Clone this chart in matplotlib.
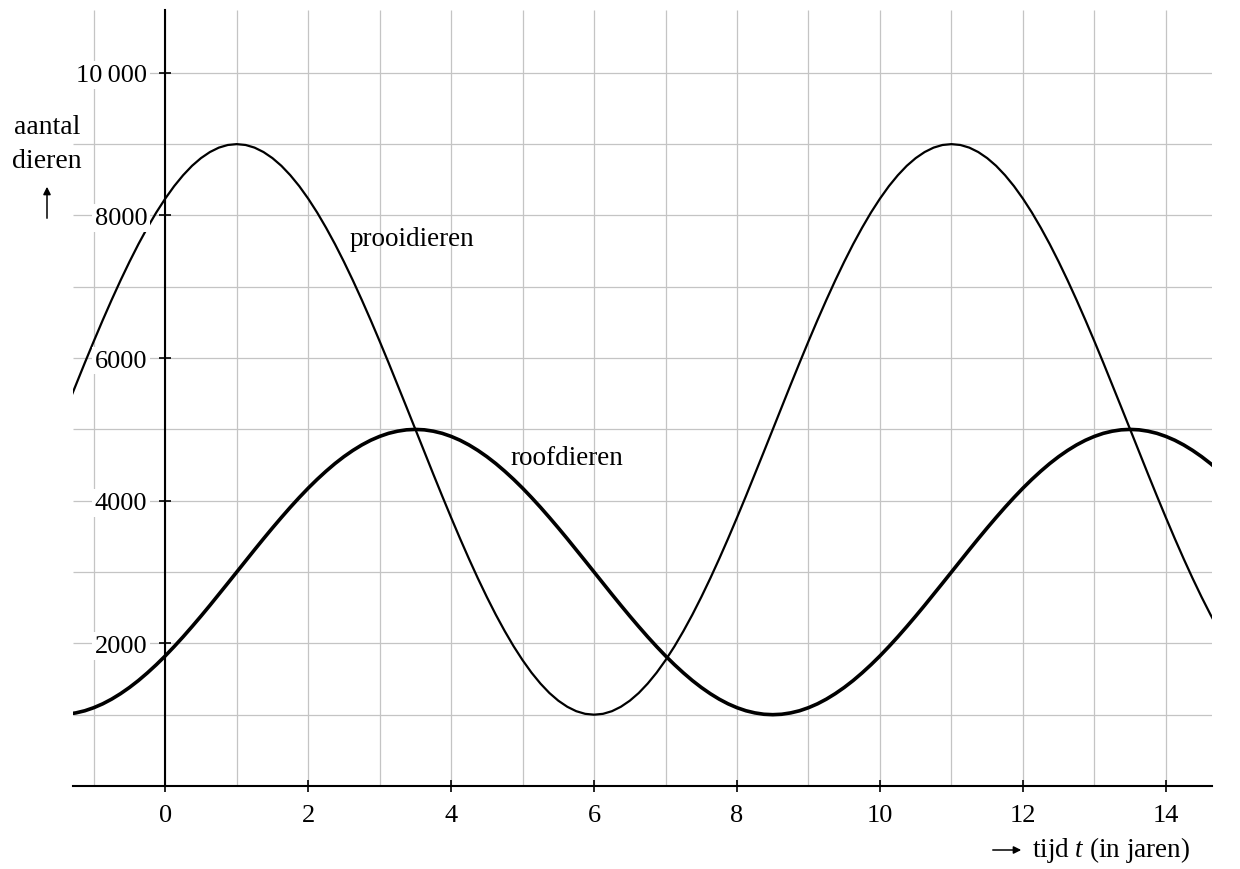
import matplotlib
matplotlib.use("Agg")
import matplotlib.pyplot as plt

plt.rcParams['font.family'] = ['Liberation Serif', 'DejaVu Serif']
plt.rcParams['mathtext.fontset'] = 'custom'
plt.rcParams['mathtext.rm'] = 'Liberation Serif'
plt.rcParams['mathtext.it'] = 'Liberation Serif:italic'

# tijd in jaren (stap 0,125)
t = [-1.375, -1.25, -1.125,
     -1.0, -0.875, -0.75, -0.625, -0.5, -0.375, -0.25, -0.125,
     0.0, 0.125, 0.25, 0.375, 0.5, 0.625, 0.75, 0.875,
     1.0, 1.125, 1.25, 1.375, 1.5, 1.625, 1.75, 1.875,
     2.0, 2.125, 2.25, 2.375, 2.5, 2.625, 2.75, 2.875,
     3.0, 3.125, 3.25, 3.375, 3.5, 3.625, 3.75, 3.875,
     4.0, 4.125, 4.25, 4.375, 4.5, 4.625, 4.75, 4.875,
     5.0, 5.125, 5.25, 5.375, 5.5, 5.625, 5.75, 5.875,
     6.0, 6.125, 6.25, 6.375, 6.5, 6.625, 6.75, 6.875,
     7.0, 7.125, 7.25, 7.375, 7.5, 7.625, 7.75, 7.875,
     8.0, 8.125, 8.25, 8.375, 8.5, 8.625, 8.75, 8.875,
     9.0, 9.125, 9.25, 9.375, 9.5, 9.625, 9.75, 9.875,
     10.0, 10.125, 10.25, 10.375, 10.5, 10.625, 10.75, 10.875,
     11.0, 11.125, 11.25, 11.375, 11.5, 11.625, 11.75, 11.875,
     12.0, 12.125, 12.25, 12.375, 12.5, 12.625, 12.75, 12.875,
     13.0, 13.125, 13.25, 13.375, 13.5, 13.625, 13.75, 13.875,
     14.0, 14.125, 14.25, 14.375, 14.5, 14.625, 14.75]

prooidieren = [5314, 5626, 5934, 6236, 6531, 6816, 7090, 7351, 7598, 7828,
               8042, 8236, 8411, 8564, 8696, 8804, 8889, 8951, 8988, 9000,
               8988, 8951, 8889, 8804, 8696, 8564, 8411, 8236, 8042, 7828,
               7598, 7351, 7090, 6816, 6531, 6236, 5934, 5626, 5314, 5000,
               4686, 4374, 4066, 3764, 3469, 3184, 2910, 2649, 2402, 2172,
               1958, 1764, 1589, 1436, 1304, 1196, 1111, 1049, 1012, 1000,
               1012, 1049, 1111, 1196, 1304, 1436, 1589, 1764, 1958, 2172,
               2402, 2649, 2910, 3184, 3469, 3764, 4066, 4374, 4686, 5000,
               5314, 5626, 5934, 6236, 6531, 6816, 7090, 7351, 7598, 7828,
               8042, 8236, 8411, 8564, 8696, 8804, 8889, 8951, 8988, 9000,
               8988, 8951, 8889, 8804, 8696, 8564, 8411, 8236, 8042, 7828,
               7598, 7351, 7090, 6816, 6531, 6236, 5934, 5626, 5314, 5000,
               4686, 4374, 4066, 3764, 3469, 3184, 2910, 2649, 2402, 2172]

roofdieren = [1006, 1025, 1055, 1098, 1152, 1218, 1295, 1382, 1479, 1586,
              1701, 1824, 1955, 2092, 2235, 2382, 2533, 2687, 2843, 3000,
              3157, 3313, 3467, 3618, 3765, 3908, 4045, 4176, 4299, 4414,
              4521, 4618, 4705, 4782, 4848, 4902, 4945, 4975, 4994, 5000,
              4994, 4975, 4945, 4902, 4848, 4782, 4705, 4618, 4521, 4414,
              4299, 4176, 4045, 3908, 3765, 3618, 3467, 3313, 3157, 3000,
              2843, 2687, 2533, 2382, 2235, 2092, 1955, 1824, 1701, 1586,
              1479, 1382, 1295, 1218, 1152, 1098, 1055, 1025, 1006, 1000,
              1006, 1025, 1055, 1098, 1152, 1218, 1295, 1382, 1479, 1586,
              1701, 1824, 1955, 2092, 2235, 2382, 2533, 2687, 2843, 3000,
              3157, 3313, 3467, 3618, 3765, 3908, 4045, 4176, 4299, 4414,
              4521, 4618, 4705, 4782, 4848, 4902, 4945, 4975, 4994, 5000,
              4994, 4975, 4945, 4902, 4848, 4782, 4705, 4618, 4521, 4414]

x_ticks = [0, 2, 4, 6, 8, 10, 12, 14]
y_ticks = [2000, 4000, 6000, 8000, 10000]
y_labels = ['2000', '4000', '6000', '8000', '10\u2009000']
grid_x = list(range(-1, 15))
grid_y = list(range(1000, 11000, 1000))

fig = plt.figure(figsize=(12.4, 8.7), dpi=100)
ax = fig.add_axes([0.0589, 0.0954, 0.9182, 0.8919])
xmin, xmax = -1.29, 14.64
ymin, ymax = 0, 10880
ax.set_xlim(xmin, xmax)
ax.set_ylim(ymin, ymax)
ax.set_axisbelow(False)

grid_c = '#c4c4c4'
ax.vlines(grid_x, 0, ymax, colors=grid_c, lw=0.9, zorder=0.5)
ax.hlines(grid_y, xmin, xmax, colors=grid_c, lw=0.9, zorder=0.5)

ax.plot(t, prooidieren, color='black', lw=1.6, zorder=2,
        solid_joinstyle='round')
ax.plot(t, roofdieren, color='black', lw=2.6, zorder=2,
        solid_joinstyle='round')

for s in ['top', 'right']:
    ax.spines[s].set_visible(False)
ax.spines['left'].set_position(('data', 0))
ax.spines['bottom'].set_position(('data', 0))
ax.spines['left'].set_linewidth(1.5)
ax.spines['bottom'].set_linewidth(1.5)

ax.set_xticks(x_ticks)
ax.set_yticks(y_ticks)
ax.set_yticklabels(y_labels)
ax.tick_params(axis='both', direction='inout', length=8, width=1.2, labelsize=19)
ax.tick_params(axis='x', pad=9)
ax.tick_params(axis='y', pad=9)
for lab in ax.get_yticklabels():
    lab.set_bbox(dict(facecolor='white', edgecolor='none', pad=2))

ax.text(2.58, 7670, 'prooidieren', fontsize=19.5, va='center', ha='left', zorder=4)
ax.text(4.83, 4610, 'roofdieren', fontsize=19.5, va='center', ha='left', zorder=4)

fig.text(47 / 1240, 1 - 128 / 870, 'aantal', fontsize=20, ha='center', va='center')
fig.text(47 / 1240, 1 - 161 / 870, 'dieren', fontsize=20, ha='center', va='center')
fig.add_artist(matplotlib.patches.FancyArrowPatch(
    (47 / 1240, 1 - 222 / 870), (47 / 1240, 1 - 185 / 870),
    transform=fig.transFigure, arrowstyle='-|>', mutation_scale=11,
    lw=1.1, color='black'))

fig.add_artist(matplotlib.patches.FancyArrowPatch(
    (990 / 1240, 1 - 851 / 870), (1024 / 1240, 1 - 851 / 870),
    transform=fig.transFigure, arrowstyle='-|>', mutation_scale=11,
    lw=1.1, color='black'))
fig.text(1032 / 1240, 1 - 850 / 870, 'tijd $t$ (in jaren)', fontsize=19.5,
         ha='left', va='center')

fig.savefig('out.png', dpi=100)
